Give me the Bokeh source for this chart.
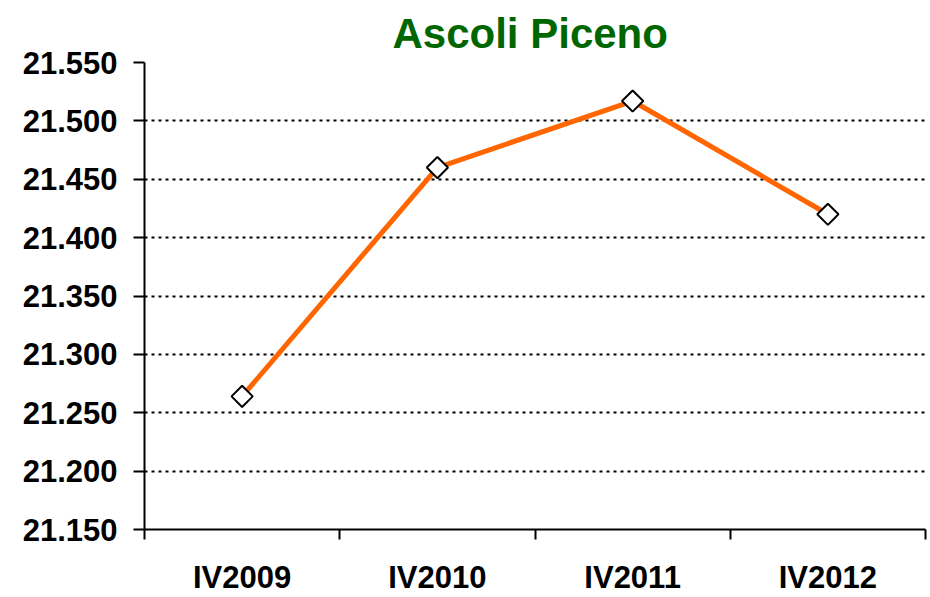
from bokeh.plotting import figure
from bokeh.models import FixedTicker, CustomJSTickFormatter, Range1d, ColumnDataSource
from bokeh.embed import file_html
from bokeh.resources import INLINE
import math

title_text = "Ascoli Piceno"
categories = ["IV2009", "IV2010", "IV2011", "IV2012"]
values = [21264, 21460, 21517, 21420]
y_ticks = [21150, 21200, 21250, 21300, 21350, 21400, 21450, 21500, 21550]

xs = [i + 0.5 for i in range(len(categories))]
src = ColumnDataSource(dict(x=xs, y=values))

FONT = "Liberation Sans"

p = figure(width=930, height=597, output_backend="svg", toolbar_location=None,
           x_range=Range1d(0, len(categories)), y_range=Range1d(y_ticks[0], y_ticks[-1]),
           min_border_left=144, min_border_right=5, min_border_top=62, min_border_bottom=64)
p.outline_line_color = None
p.background_fill_color = "white"
p.border_fill_color = "white"

p.title.text = title_text
p.title.text_font = FONT
p.title.text_font_size = "42px"
p.title.text_font_style = "bold"
p.title.text_color = "#006600"
p.title.align = "left"
p.title.offset = 248
p.title.standoff = 12

# x axis
p.xaxis.ticker = FixedTicker(ticks=xs, minor_ticks=list(range(len(categories) + 1)))
p.xaxis.major_label_overrides = {x: c for x, c in zip(xs, categories)}
p.xaxis.major_tick_line_color = None
p.xaxis.minor_tick_line_color = "black"
p.xaxis.minor_tick_line_width = 2
p.xaxis.minor_tick_out = 10
p.xaxis.minor_tick_in = 0
p.xaxis.major_label_standoff = 20
p.xaxis.axis_line_width = 2
p.xaxis.axis_line_color = "black"

# y axis
p.yaxis.ticker = FixedTicker(ticks=y_ticks)
p.yaxis.formatter = CustomJSTickFormatter(code="""
const s = Math.round(tick).toString();
return s.slice(0, -3) + '.' + s.slice(-3);
""")
p.yaxis.major_tick_line_width = 2
p.yaxis.major_tick_out = 11
p.yaxis.major_tick_in = 0
p.yaxis.minor_tick_line_color = None
p.yaxis.major_label_standoff = 16
p.yaxis.axis_line_width = 2

for ax in (p.xaxis, p.yaxis):
    ax.major_label_text_font = FONT
    ax.major_label_text_font_size = "31px"
    ax.major_label_text_font_style = "bold"
    ax.major_label_text_color = "black"

p.xgrid.grid_line_color = None
p.ygrid.grid_line_color = "black"
p.ygrid.grid_line_width = 2
p.ygrid.grid_line_dash = "3 4"

p.line("x", "y", source=src, line_color="#FF6600", line_width=5)
p.scatter("x", "y", source=src, marker="square", angle=math.pi / 4, size=15,
          fill_color="white", line_color="black", line_width=2)

open("out.html", "w").write(file_html(p, INLINE))
